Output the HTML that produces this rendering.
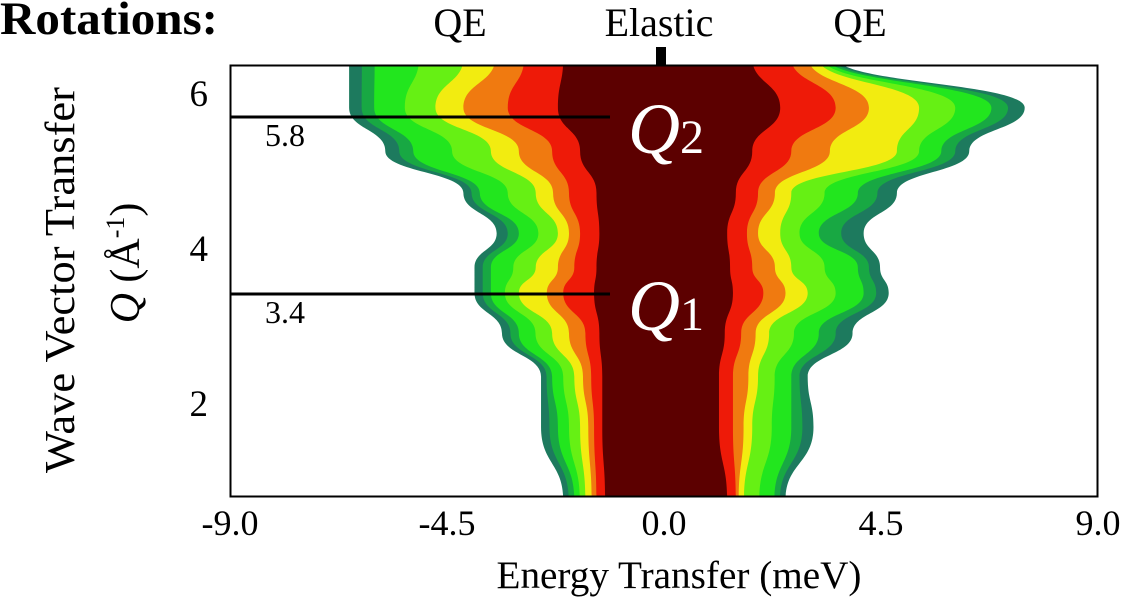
<!DOCTYPE html>
<html><head><meta charset="utf-8">
<style>
html,body{margin:0;padding:0;background:#fff;}
body{width:1123px;height:607px;overflow:hidden;position:relative;font-family:"Liberation Serif",serif;}
</style></head>
<body>
<svg id="chart" width="1123" height="607" viewBox="0 0 1123 607" xmlns="http://www.w3.org/2000/svg" font-family="Liberation Serif, serif">
<defs><clipPath id="plotclip"><rect x="231" y="66" width="866" height="430"/></clipPath></defs>
<text x="0" y="34" font-size="47" font-weight="bold" textLength="218" lengthAdjust="spacingAndGlyphs">Rotations:</text>
<text x="460" y="36" font-size="40" text-anchor="middle">QE</text>
<text x="659" y="36" font-size="40" text-anchor="middle">Elastic</text>
<text x="860" y="36" font-size="40" text-anchor="middle">QE</text>
<rect x="656" y="47" width="10" height="19" fill="#000"/>
<g id="heat" clip-path="url(#plotclip)"></g>
<rect x="230.5" y="65.5" width="867" height="431" fill="none" stroke="#000" stroke-width="2"/>
<g id="annot"></g>
<g id="axes"></g>
<text x="679" y="588" font-size="39" text-anchor="middle" textLength="365" lengthAdjust="spacingAndGlyphs">Energy Transfer (meV)</text>
<text transform="translate(74,280) rotate(-90)" font-size="42" text-anchor="middle" textLength="386" lengthAdjust="spacingAndGlyphs">Wave Vector Transfer</text>
<text transform="translate(139,263) rotate(-90)" font-size="42" text-anchor="middle"><tspan font-style="italic">Q</tspan> (Å<tspan font-size="26" dy="-15">-1</tspan><tspan dy="15">)</tspan></text>
</svg>
<script>
const xTicks = [-9.0, -4.5, 0.0, 4.5, 9.0];
const xTickLabels = ["-9.0", "-4.5", "0.0", "4.5", "9.0"];
const yTicks = [2, 4, 6];
const qRows = [6.45, 5.81, 5.25, 4.71, 4.19, 3.75, 3.42, 2.90, 2.34, 1.69, 0.75];
const edgeL = [-6.53,-6.53,-5.78,-4.16,-3.47,-3.93,-3.93,-3.36,-2.55,-2.55,-2.09];
const edgeR = [3.6,7.48,6.33,4.83,4.14,4.48,4.66,3.91,2.98,3.10,2.52];
const greenL = [-6.0,-6.01,-5.20,-3.82,-3.01,-3.59,-3.59,-3.01,-2.32,-2.20,-1.86];
const greenR = [3.4,6.79,5.75,4.02,3.21,4.02,4.14,3.21,2.64,2.64,2.29];
const yellowL = [-4.16,-4.74,-3.59,-2.66,-2.20,-2.66,-3.01,-2.32,-1.86,-1.74,-1.63];
const yellowR = [3.2,5.29,4.83,2.64,2.41,2.64,2.98,2.18,1.95,1.83,1.66];
const orangeL = [-3.5,-4.16,-3.01,-2.3,-1.97,-2.2,-2.43,-1.97,-1.68,-1.57,-1.5];
const orangeR = [3.0,4.25,3.44,2.3,1.95,2.3,2.52,1.9,1.75,1.65,1.55];
const redL = [-2.90,-3.24,-2.32,-1.97,-1.74,-1.86,-2.09,-1.63,-1.51,-1.45,-1.40];
const redR = [2.64,3.56,2.64,1.95,1.72,1.83,2.06,1.60,1.43,1.43,1.49];
const coreL = [-2.09,-2.20,-1.74,-1.40,-1.34,-1.40,-1.45,-1.34,-1.28,-1.28,-1.22];
const coreR = [1.83,2.41,1.83,1.49,1.31,1.37,1.43,1.26,1.14,1.14,1.31];
const markQ = [5.8, 3.4];
const markLabels = ["Q2", "Q1"];

const NS = "http://www.w3.org/2000/svg";
const X0 = 230, X1 = 1098, EMIN = -9, EMAX = 9;
function xs(e){ return X0 + (e - EMIN) / (EMAX - EMIN) * (X1 - X0); }
function ys(q){ return 93 + (6 - q) * 77.5; }
function mk(tag, attrs, parent){ const el = document.createElementNS(NS, tag); for (const k in attrs) el.setAttribute(k, attrs[k]); parent.appendChild(el); return el; }

function smoothPath(pts){
  let d = "M" + pts[0][0] + "," + pts[0][1];
  for (let i = 1; i < pts.length; i++){
    const p0 = pts[i-1], p1 = pts[i];
    const my = (p0[1] + p1[1]) / 2;
    d += " C" + p0[0] + "," + my + " " + p1[0] + "," + my + " " + p1[0] + "," + p1[1];
  }
  return d;
}
function band(L, R, color, name){
  const left = qRows.map((q, i) => [xs(L[i]), ys(q)]);
  const right = qRows.map((q, i) => [xs(R[i]), ys(q)]).reverse();
  let d = smoothPath(left);
  d += " L" + right[0][0] + "," + right[0][1] + smoothPath(right).replace(/^M[^ ]+/, "");
  d += " Z";
  const p = mk("path", {d: d, fill: color}, document.getElementById("heat"));
  
  
}
band(edgeL, edgeR, "#1d7a5e", "band-edge");
band(edgeL.map((v,i)=>(v+greenL[i])/2), edgeR.map((v,i)=>(v+greenR[i])/2), "#18a843", "band-dark-green");
band(greenL, greenR, "#22e61e", "band-green");
band(greenL.map((v,i)=>(v+yellowL[i])/2), greenR.map((v,i)=>(v+yellowR[i])/2), "#66f014", "band-light-green");
band(yellowL, yellowR, "#f2ec10", "band-yellow");
band(orangeL, orangeR, "#f07a10", "band-orange");
band(redL, redR, "#ee1a08", "band-red");
band(coreL, coreR, "#5c0000", "band-core");

const axes = document.getElementById("axes");
xTicks.forEach((v, i) => {
  const t = mk("text", {x: xs(v), y: 535, "font-size": 36, "text-anchor": "middle"}, axes);
  
  
  t.textContent = xTickLabels[i];
});
yTicks.forEach(v => {
  const t = mk("text", {x: 208, y: ys(v) + 13, "font-size": 37, "text-anchor": "end"}, axes);
  
  
  t.textContent = String(v);
});

const annot = document.getElementById("annot");
const annY = [117, 294];
markQ.forEach((q, i) => {
  const y = annY[i];
  const l = mk("line", {x1: 230, x2: 610, y1: y, y2: y, stroke: "#000", "stroke-width": 3}, annot);
  
  
  const t = mk("text", {x: 265, y: y + 29, "font-size": 32}, annot);
  
  
  t.textContent = q.toFixed(1);
  const lab = mk("text", {x: 628, y: y + 36, "font-size": 72, fill: "#fff", "font-style": "italic"}, annot);
  
  
  lab.textContent = markLabels[i].charAt(0);
  const sub = mk("tspan", {"font-size": 48, "font-style": "normal"}, lab);
  sub.textContent = markLabels[i].slice(1);
});
</script>
</body></html>
